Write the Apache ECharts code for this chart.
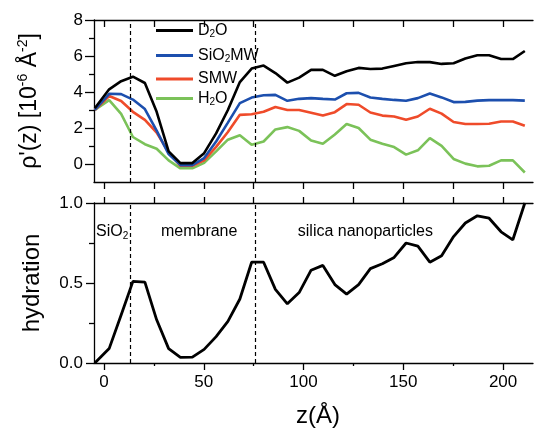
<!DOCTYPE html>
<html>
<head>
<meta charset="utf-8">
<script src="https://cdn.jsdelivr.net/npm/echarts@6/dist/echarts.min.js"></script>
<style>
html,body{margin:0;padding:0;background:#fff;}
#chart{width:535px;height:428px;}
</style>
</head>
<body>
<div id="chart"></div>
<script>
// ---- data ----
const zValues = [-4.6, 2.6, 8.6, 14.5, 20.5, 26.4, 32.4, 38.3, 44.3, 50.2, 56.2, 62.1, 68.1, 74.0, 80.0, 85.9, 91.9, 97.8, 103.8, 109.7, 115.7, 121.6, 127.6, 133.5, 139.5, 145.4, 151.4, 157.3, 163.3, 169.2, 175.2, 181.1, 187.1, 193.0, 199.0, 204.9, 210.9];
const d2o = [3.1, 4.15, 4.6, 4.85, 4.5, 2.9, 0.7, 0.05, 0.05, 0.6, 1.7, 3.0, 4.55, 5.3, 5.47, 5.05, 4.52, 4.8, 5.23, 5.23, 4.9, 5.15, 5.34, 5.28, 5.3, 5.45, 5.6, 5.67, 5.66, 5.56, 5.6, 5.86, 6.04, 6.04, 5.83, 5.83, 6.28];
const sio2mw = [3.0, 3.9, 3.88, 3.58, 3.05, 1.85, 0.55, -0.06, -0.06, 0.33, 1.25, 2.3, 3.38, 3.69, 3.82, 3.84, 3.51, 3.62, 3.66, 3.62, 3.58, 3.93, 3.95, 3.69, 3.62, 3.56, 3.51, 3.66, 3.92, 3.7, 3.44, 3.45, 3.52, 3.55, 3.55, 3.55, 3.52];
const smw = [3.0, 3.78, 3.5, 2.9, 2.45, 1.75, 0.65, -0.1, -0.1, 0.2, 0.95, 1.78, 2.73, 2.76, 2.9, 3.17, 3.0, 3.0, 2.85, 2.69, 2.88, 3.33, 3.29, 2.86, 2.69, 2.64, 2.46, 2.64, 3.07, 2.8, 2.33, 2.22, 2.22, 2.24, 2.36, 2.36, 2.12];
const h2o = [3.0, 3.55, 2.78, 1.5, 1.1, 0.85, 0.2, -0.24, -0.24, 0.06, 0.7, 1.35, 1.6, 1.07, 1.25, 1.92, 2.05, 1.84, 1.3, 1.12, 1.64, 2.22, 2.0, 1.35, 1.12, 0.94, 0.52, 0.76, 1.44, 1.01, 0.28, 0.02, -0.13, -0.1, 0.2, 0.2, -0.47];
const hydration = [0.0, 0.09, 0.30, 0.51, 0.505, 0.27, 0.09, 0.035, 0.037, 0.085, 0.165, 0.26, 0.40, 0.63, 0.63, 0.46, 0.37, 0.44, 0.58, 0.61, 0.49, 0.43, 0.49, 0.59, 0.62, 0.66, 0.75, 0.73, 0.63, 0.67, 0.79, 0.875, 0.92, 0.905, 0.82, 0.77, 1.0];

const regionBounds = [13, 76];                     // dashed vertical lines (z)
const xTicksAll = [0, 25, 50, 75, 100, 125, 150, 175, 200];
const xLabelTicks = [0, 50, 100, 150, 200];
const xMinorTicks = [25, 75, 125, 175];
const yTopMajor = [0, 2, 4, 6, 8];
const yTopMinor = [1, 3, 5, 7];
const annotations = [
  {text: '{n|SiO}{s|2}', z: 4.1, h: 0.82},
  {text: '{n|membrane}', z: 47.7, h: 0.82},
  {text: '{n|silica nanoparticles}', z: 131, h: 0.82}
];
const legendNames = ['D2O', 'SiO2MW', 'SMW', 'H2O'];
const legendLabels = {
  'D2O': '{n|D}{s|2}{n|O}',
  'SiO2MW': '{n|SiO}{s|2}{n|MW}',
  'SMW': '{n|SMW}',
  'H2O': '{n|H}{s|2}{n|O}'
};
const legendTops = [22.5, 47.5, 71, 90.5];
const colors = {D2O: '#000000', SiO2MW: '#1c4fae', SMW: '#ef4b2a', H2O: '#7bc259'};

const FONT = 'Liberation Sans, Arial, sans-serif';
const pair = (ys) => zValues.map((z, i) => [z, ys[i]]);
const axLine = {show: true, onZero: false, lineStyle: {color: '#000', width: 1.3}};
const tickStyle = {color: '#000', width: 1.3};

const subRich = {
  n: {fontSize: 16, lineHeight: 18, color: '#000', fontFamily: FONT},
  s: {fontSize: 10, lineHeight: 10, color: '#000', fontFamily: FONT, verticalAlign: 'bottom'}
};

const chart = echarts.init(document.getElementById('chart'), null, {renderer: 'canvas'});

const xBase = (gridIndex, position) => ({
  type: 'value', gridIndex, position, min: -5, max: 215,
  axisLine: axLine, splitLine: {show: false},
  axisLabel: {show: false}
});

const option = {
  backgroundColor: '#fff',
  animation: false,
  grid: [
    {left: 94, right: 2, top: 20, height: 162, outerBoundsMode: 'none'},
    {left: 94, right: 2, top: 203, height: 160, outerBoundsMode: 'none'}
  ],
  legend: legendNames.map((nm, i) => ({
    data: [nm], left: 156, top: legendTops[i], padding: 0,
    icon: 'rect', itemWidth: 37, itemHeight: 3, itemGap: 0,
    selectedMode: false,
    formatter: (name) => legendLabels[name],
    textStyle: {color: '#000', fontFamily: FONT, fontSize: 16, rich: subRich}
  })),
  xAxis: [
    Object.assign(xBase(0, 'bottom'), {axisTick: {show: true, inside: false, length: 7, customValues: xTicksAll, lineStyle: tickStyle}}),
    Object.assign(xBase(0, 'top'), {axisTick: {show: true, inside: true, length: 7, customValues: xTicksAll, lineStyle: tickStyle}}),
    Object.assign(xBase(1, 'bottom'), {
      axisTick: {show: true, inside: false, length: 7, customValues: xLabelTicks, lineStyle: tickStyle},
      axisLabel: {show: true, customValues: xLabelTicks, margin: 11, color: '#000', fontSize: 17, fontFamily: FONT},
      name: 'z(Å)', nameLocation: 'middle', nameGap: 41,
      nameTextStyle: {color: '#000', fontSize: 24, fontFamily: FONT, padding: [0, 0, 0, 9]}
    }),
    Object.assign(xBase(1, 'bottom'), {axisLine: {show: false, onZero: false}, axisTick: {show: true, inside: false, length: 3, customValues: xMinorTicks, lineStyle: tickStyle}}),
    Object.assign(xBase(1, 'top'), {axisTick: {show: true, inside: false, length: 6, customValues: xTicksAll, lineStyle: tickStyle}})
  ],
  yAxis: [
    {
      type: 'value', gridIndex: 0, position: 'left', min: -1, max: 8, interval: 1,
      axisLine: axLine, splitLine: {show: false},
      axisTick: {show: true, inside: false, length: 9, customValues: yTopMajor, lineStyle: tickStyle},
      axisLabel: {show: true, customValues: yTopMajor, margin: 11, color: '#000', fontSize: 17, fontFamily: FONT},
      name: "{n|ρ'(z) [10}{p|-6}{n| Å}{p|-2}{n|]}", nameLocation: 'middle', nameGap: 50, nameRotate: 90,
      nameTextStyle: {
        color: '#000', fontSize: 23, fontFamily: FONT,
        rich: {
          n: {fontSize: 23, lineHeight: 28, color: '#000', fontFamily: FONT},
          p: {fontSize: 14, lineHeight: 14, color: '#000', fontFamily: FONT, verticalAlign: 'top'}
        }
      }
    },
    {
      type: 'value', gridIndex: 0, position: 'left', min: -1, max: 8, interval: 1,
      axisLine: {show: false, onZero: false}, splitLine: {show: false},
      axisTick: {show: true, inside: false, length: 5, customValues: yTopMinor, lineStyle: tickStyle},
      axisLabel: {show: false}
    },
    {
      type: 'value', gridIndex: 1, position: 'left', min: 0, max: 1, interval: 0.5,
      axisLine: axLine, splitLine: {show: false},
      axisTick: {show: true, inside: false, length: 8, lineStyle: tickStyle},
      minorTick: {show: true, splitNumber: 2, length: 5, lineStyle: tickStyle},
      axisLabel: {show: true, margin: 11, color: '#000', fontSize: 17, fontFamily: FONT, formatter: (v) => v.toFixed(1)},
      name: 'hydration', nameLocation: 'middle', nameGap: 50, nameRotate: 90,
      nameTextStyle: {color: '#000', fontSize: 24, fontFamily: FONT}
    }
  ],
  series: [
    {name: 'H2O', type: 'line', xAxisIndex: 0, yAxisIndex: 0, data: pair(h2o), symbol: 'none',
     color: colors.H2O, lineStyle: {width: 2.6, color: colors.H2O}},
    {name: 'SMW', type: 'line', xAxisIndex: 0, yAxisIndex: 0, data: pair(smw), symbol: 'none',
     color: colors.SMW, lineStyle: {width: 2.6, color: colors.SMW}},
    {name: 'SiO2MW', type: 'line', xAxisIndex: 0, yAxisIndex: 0, data: pair(sio2mw), symbol: 'none',
     color: colors.SiO2MW, lineStyle: {width: 2.6, color: colors.SiO2MW}},
    {name: 'D2O', type: 'line', xAxisIndex: 0, yAxisIndex: 0, data: pair(d2o), symbol: 'none',
     color: colors.D2O, lineStyle: {width: 2.6, color: colors.D2O},
     markLine: {silent: true, symbol: 'none', label: {show: false},
       lineStyle: {type: [4, 3], color: '#000', width: 1.2},
       data: regionBounds.map(v => ({xAxis: v}))}},
    {name: 'hydration', type: 'line', xAxisIndex: 2, yAxisIndex: 2, data: pair(hydration), symbol: 'none',
     color: '#000', lineStyle: {width: 2.8, color: '#000'},
     markLine: {silent: true, symbol: 'none', label: {show: false},
       lineStyle: {type: [4, 3], color: '#000', width: 1.2},
       data: regionBounds.map(v => ({xAxis: v}))},
     markPoint: {silent: true, symbol: 'rect', symbolSize: 1, itemStyle: {color: 'rgba(0,0,0,0)'},
       label: {show: true, position: 'inside', color: '#000', fontFamily: FONT, fontSize: 16, rich: subRich},
       data: annotations.map(a => ({coord: [a.z, a.h], label: {formatter: a.text}}))}}
  ]
};
chart.setOption(option);
</script>
</body>
</html>
